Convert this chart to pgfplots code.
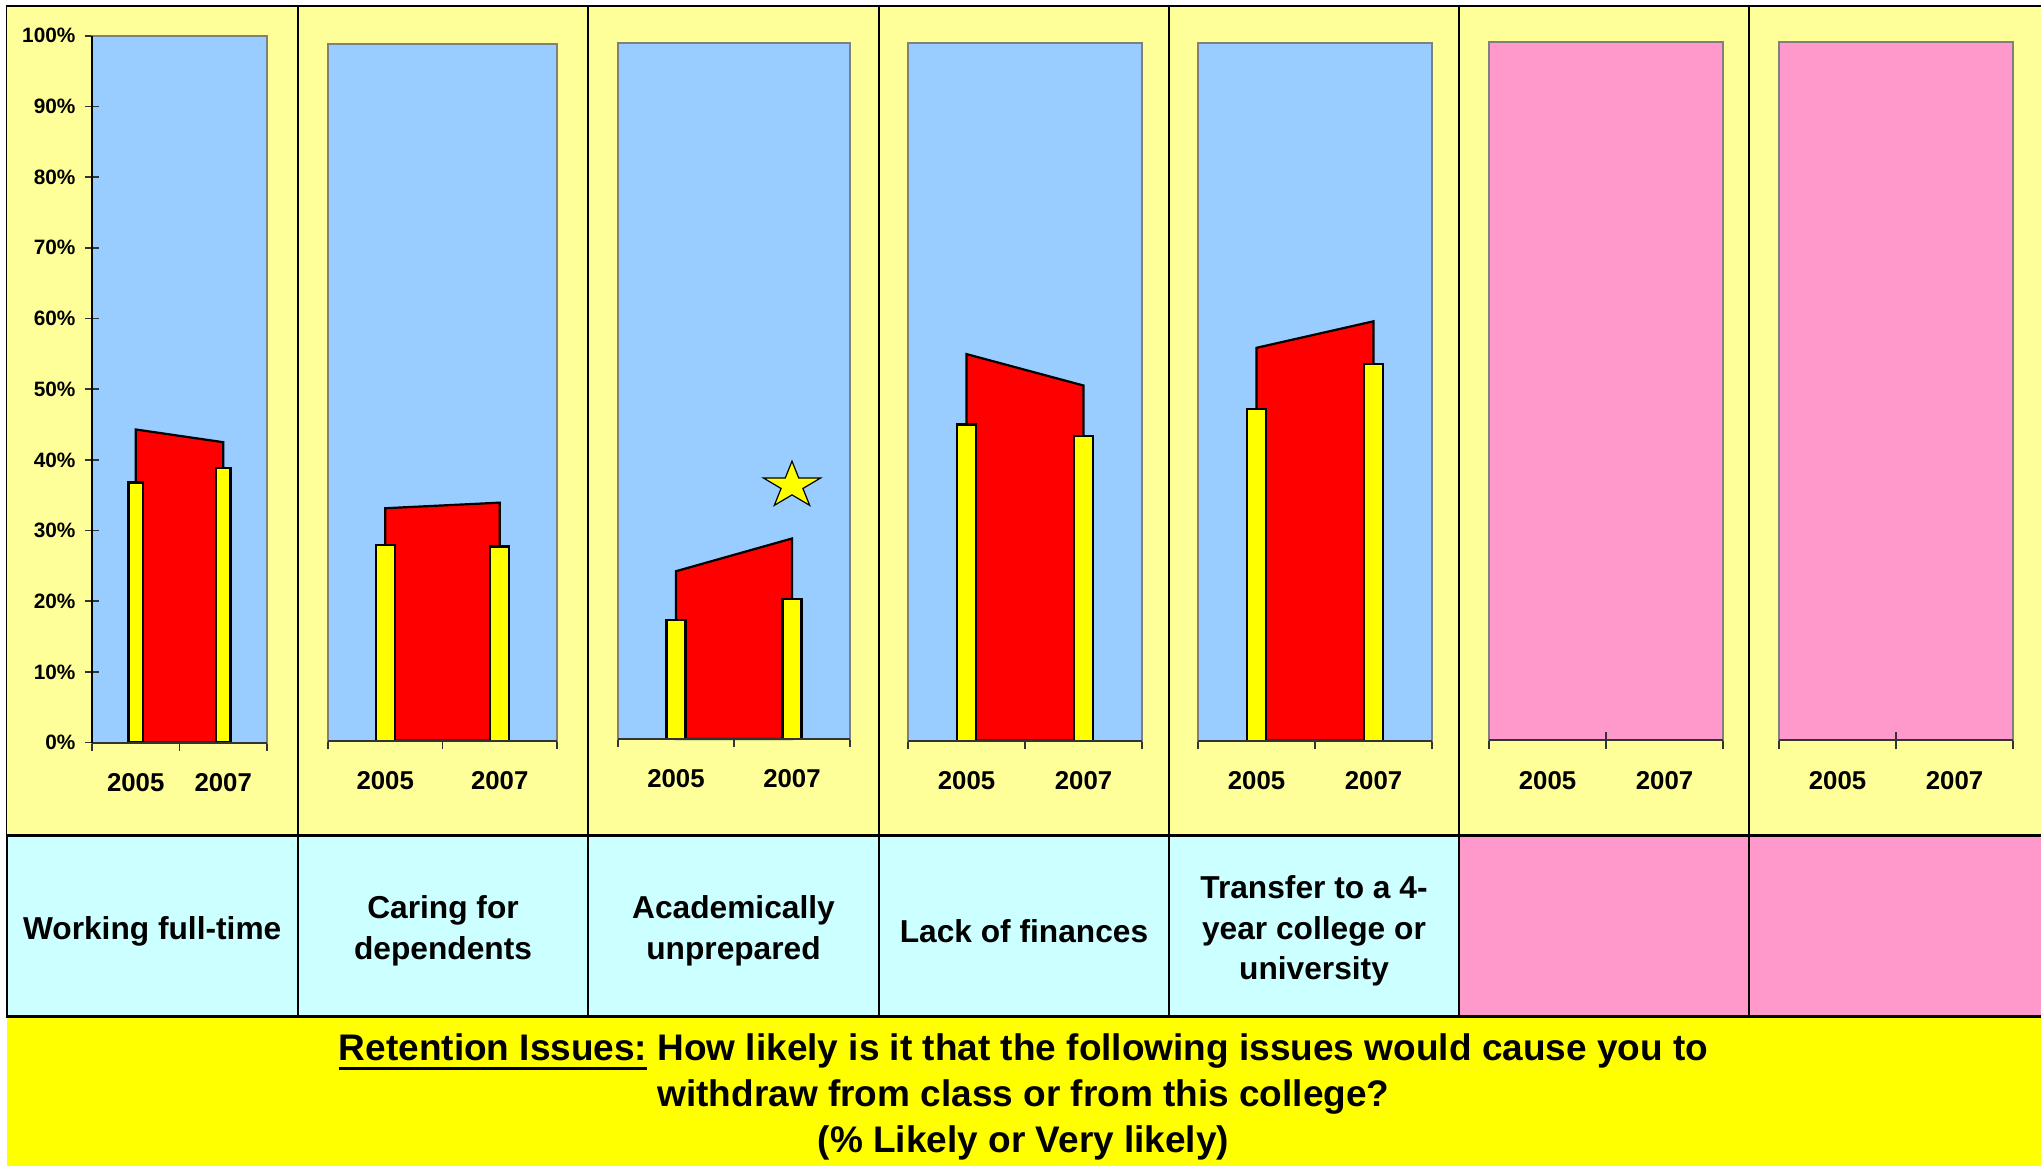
\documentclass[border=0pt]{standalone}
\usepackage{fontspec}
\setmainfont{Liberation Sans}
\usepackage{pgfplots}
\pgfplotsset{compat=1.18}

\definecolor{panelyellow}{HTML}{FFFF99}
\definecolor{plotblue}{HTML}{99CCFF}
\definecolor{plotpink}{HTML}{FF99CC}
\definecolor{labelcyan}{HTML}{CCFFFF}
\definecolor{titleyellow}{HTML}{FFFF00}
\definecolor{baryellow}{HTML}{FFFF00}

% filled five-pointed star, a bit squashed like the original
\pgfdeclareplotmark{xstar}{%
  \pgfpathmoveto{\pgfpoint{0pt}{12.2pt}}%
  \pgfpathlineto{\pgfpoint{-3.368pt}{3.77pt}}%
  \pgfpathlineto{\pgfpoint{-14.266pt}{3.77pt}}%
  \pgfpathlineto{\pgfpoint{-5.45pt}{-1.44pt}}%
  \pgfpathlineto{\pgfpoint{-8.817pt}{-9.87pt}}%
  \pgfpathlineto{\pgfpoint{0pt}{-4.66pt}}%
  \pgfpathlineto{\pgfpoint{8.817pt}{-9.87pt}}%
  \pgfpathlineto{\pgfpoint{5.45pt}{-1.44pt}}%
  \pgfpathlineto{\pgfpoint{14.266pt}{3.77pt}}%
  \pgfpathlineto{\pgfpoint{3.368pt}{3.77pt}}%
  \pgfpathclose
  \pgfusepathqfillstroke
}

\newcommand\ul[1]{\setbox0\hbox{#1}\rlap{\rule[-4.5pt]{\wd0}{1.5pt}}\box0\relax}

\pgfplotsset{
  panel/.style={
    scale only axis,
    anchor=south west,
    clip=false,
    xmin=0, xmax=2, ymin=0, ymax=100,
    axis background/.style={fill=plotblue},
    axis line style={draw=black!50, line width=1pt},
    tick pos=left,
    xtick={0.5,1.5},
    xticklabels={2005,2007},
    minor xtick={0,1,2},
    major x tick style={draw=none},
    minor x tick style={draw=black!80, line width=0.75pt},
    minor tick length=8.25pt,
    major tick length=7pt,
    tick align=center,
    ytick=\empty,
    xticklabel style={font=\fontsize{12.9}{15}\selectfont\bfseries, anchor=base, yshift=-21pt},
  },
  area/.style={fill=red, draw=black, line width=1.1pt},
  bars/.style={ybar, bar width=0.165, fill=baryellow, draw=black, line width=1.1pt},
}

\begin{document}
\begin{tikzpicture}
\path[use as bounding box] (0pt,0pt) rectangle (1020.5pt,583pt);
\fill[white] (0pt,0pt) rectangle (1020.5pt,583pt);

% chart panels
\foreach \a/\b in {3.25/149, 149/294, 294/439.5, 439.5/584.5, 584.5/729.5, 729.5/874.5, 874.5/1021.5}
  \filldraw[fill=panelyellow, draw=black, line width=0.75pt] (\a pt,165pt) rectangle (\b pt,580pt);

% label row
\foreach \a/\b in {3.25/149, 149/294, 294/439.5, 439.5/584.5, 584.5/729.5}
  \filldraw[fill=labelcyan, draw=black, line width=1pt] (\a pt,74.5pt) rectangle (\b pt,165pt);
\foreach \a/\b in {729.5/874.5, 874.5/1021.5}
  \filldraw[fill=plotpink, draw=black, line width=1pt] (\a pt,74.5pt) rectangle (\b pt,165pt);
\draw[line width=1.5pt] (3.25pt,165pt) -- (1020.5pt,165pt);
\draw[line width=1.5pt] (3.25pt,74.5pt) -- (1020.5pt,74.5pt);

% title box
\fill[titleyellow] (3.25pt,0pt) rectangle (1020.5pt,73.75pt);

% panel 1: Working full-time
\begin{axis}[panel, at={(46pt,211.7pt)}, width=87.5pt, height=353.4pt,
    ytick={0,10,...,100},
    yticklabels={0\%,10\%,20\%,30\%,40\%,50\%,60\%,70\%,80\%,90\%,100\%},
    major y tick style={draw=black!80, line width=0.75pt},
    yticklabel style={font=\fontsize{10.4}{12}\selectfont\bfseries, anchor=east, inner sep=0pt, xshift=-4.6pt}]
  \addplot[area] coordinates {(0.5,44.3) (1.5,42.5)} \closedcycle;
  \addplot[bars] coordinates {(0.5,36.8) (1.5,38.9)};
  \draw[black!80, line width=1pt] (rel axis cs:0,0) -- (rel axis cs:1,0);
  \draw[black, line width=1pt] (rel axis cs:0,0) -- (rel axis cs:0,1);
\end{axis}

% panel 2: Caring for dependents
\begin{axis}[panel, at={(164pt,212.6pt)}, width=114.5pt, height=348.15pt]
  \addplot[area] coordinates {(0.5,33.4) (1.5,34.2)} \closedcycle;
  \addplot[bars] coordinates {(0.5,28.1) (1.5,27.9)};
  \draw[black!80, line width=1pt] (rel axis cs:0,0) -- (rel axis cs:1,0);
\end{axis}

% panel 3: Academically unprepared
\begin{axis}[panel, at={(309pt,213.5pt)}, width=116pt, height=348.1pt]
  \addplot[area] coordinates {(0.5,24.1) (1.5,28.8)} \closedcycle;
  \addplot[bars] coordinates {(0.5,17.1) (1.5,20.1)};
  \addplot[only marks, mark=xstar, mark options={fill=baryellow, draw=black, line width=0.6pt}] coordinates {(1.5,36.4)};
  \draw[black!80, line width=1pt] (rel axis cs:0,0) -- (rel axis cs:1,0);
\end{axis}

% panel 4: Lack of finances
\begin{axis}[panel, at={(454pt,212.6pt)}, width=117pt, height=349pt]
  \addplot[area] coordinates {(0.5,55.4) (1.5,50.9)} \closedcycle;
  \addplot[bars] coordinates {(0.5,45.3) (1.5,43.7)};
  \draw[black!80, line width=1pt] (rel axis cs:0,0) -- (rel axis cs:1,0);
\end{axis}

% panel 5: Transfer
\begin{axis}[panel, at={(599pt,212.6pt)}, width=117pt, height=349pt]
  \addplot[area] coordinates {(0.5,56.3) (1.5,60.1)} \closedcycle;
  \addplot[bars] coordinates {(0.5,47.5) (1.5,54.0)};
  \draw[black!80, line width=1pt] (rel axis cs:0,0) -- (rel axis cs:1,0);
\end{axis}

% panels 6 and 7: empty
\begin{axis}[panel, at={(744.5pt,212.8pt)}, width=117pt, height=349pt,
    axis background/.style={fill=plotpink}]
  \addplot[area] coordinates {(0.5,0) (1.5,0)} \closedcycle;
  \draw[black!80, line width=1pt] (rel axis cs:0,0) -- (rel axis cs:1,0);
\end{axis}
\begin{axis}[panel, at={(889.5pt,212.8pt)}, width=117pt, height=349pt,
    axis background/.style={fill=plotpink}]
  \addplot[area] coordinates {(0.5,0) (1.5,0)} \closedcycle;
  \draw[black!80, line width=1pt] (rel axis cs:0,0) -- (rel axis cs:1,0);
\end{axis}

% category labels
\begin{scope}[every node/.style={align=center, font=\fontsize{15.85}{20.2}\selectfont\bfseries}]
  \node at (76.1pt,117.5pt) {Working full-time};
  \node at (221.5pt,117.5pt) {Caring for\\dependents};
  \node at (366.75pt,117.5pt) {Academically\\unprepared};
  \node at (512pt,117.5pt) {Lack of finances};
  \node at (657pt,117.5pt) {Transfer to a 4-\\year college or\\university};
\end{scope}

% title
\node[align=center, font=\fontsize{18.5}{23}\selectfont\bfseries] at (511.75pt,34.5pt)
  {\ul{Retention Issues:} How likely is it that the following issues would cause you to\\
   withdraw from class or from this college?\\
   (\% Likely or Very likely)};
\end{tikzpicture}
\end{document}
